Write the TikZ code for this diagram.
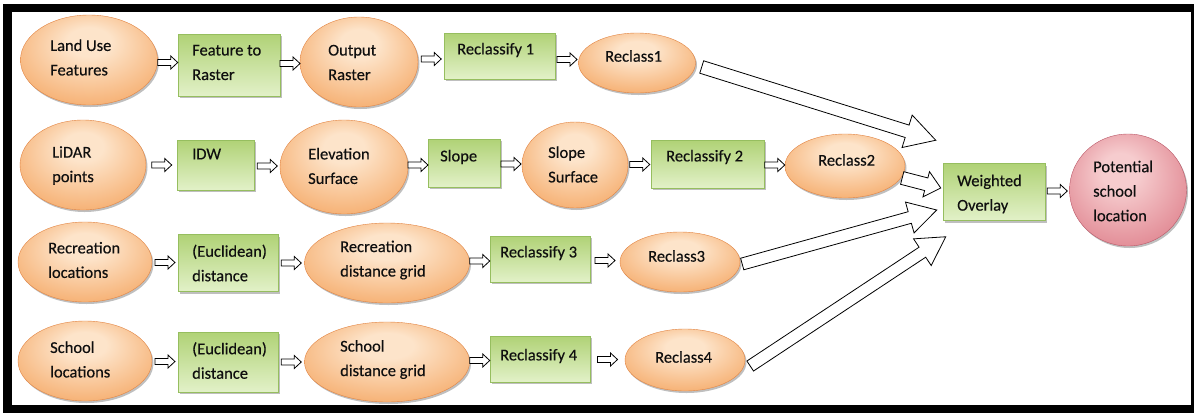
\documentclass[tikz,border=0pt]{standalone}
\usepackage{fontspec}
\setmainfont{Carlito}
\newfontfamily\lblfont{Carlito}[FakeBold=0.35]
\usetikzlibrary{calc,shapes.geometric,shadows}
\definecolor{orI}{RGB}{253,228,202}
\definecolor{orM}{RGB}{246,178,118}
\definecolor{orO}{RGB}{232,132,62}
\definecolor{orD}{RGB}{226,132,66}
\definecolor{pkI}{RGB}{246,204,206}
\definecolor{pkM}{RGB}{226,140,150}
\definecolor{pkO}{RGB}{196,84,100}
\definecolor{pkD}{RGB}{186,88,104}
\definecolor{gnT}{RGB}{176,210,118}
\definecolor{gnB}{RGB}{226,241,200}
\definecolor{gnD}{RGB}{150,190,95}
\definecolor{txtc}{RGB}{15,15,15}
\pgfdeclareradialshading{orshade}{\pgfpoint{0bp}{12bp}}{color(0bp)=(orI); color(8bp)=(orI); color(30bp)=(orM); color(50bp)=(orO)}
\pgfdeclareradialshading{pkshade}{\pgfpoint{-4bp}{10bp}}{color(0bp)=(pkI); color(8bp)=(pkI); color(30bp)=(pkM); color(50bp)=(pkO)}
\tikzset{
  shd/.style={drop shadow={shadow xshift=1.5pt, shadow yshift=-2pt, opacity=0.25, fill=black}},
  oval/.style={ellipse, draw=orD, line width=0.4pt, shading=orshade, shd, inner sep=0pt},
  pink/.style={ellipse, draw=pkD, line width=0.4pt, shading=pkshade, shd, inner sep=0pt},
  box/.style={rectangle, draw=gnD, line width=0.5pt, top color=gnT, bottom color=gnB, shd, inner sep=0pt},
  txt/.style={anchor=west, align=left, inner sep=0pt, font=\lblfont\fontsize{16.5}{24.5}\selectfont, text=txtc},
  blk/.style={draw=black, fill=white, line width=0.8pt, line join=miter},
}
% block arrow: start, end, half shaft, half head, head length
\newcommand\blockarr[5]{%
  \coordinate (bs) at #1; \coordinate (be) at #2;
  \coordinate (bh) at ($(be)!#5!(bs)$);
  \draw[blk] ($(bs)!#3!90:(be)$) -- ($(bh)!#3!-90:(bs)$) -- ($(bh)!#4!-90:(bs)$) -- (be)
    -- ($(bh)!#4!90:(bs)$) -- ($(bh)!#3!90:(bs)$) -- ($(bs)!#3!-90:(be)$) -- cycle;}
% small arrow between two nodes
\newcommand\smallarr[2]{%
  \coordinate (sm) at ($(#1.east)!.5!(#2.west)$);
  \blockarr{($(sm)+(-10,0)$)}{($(sm)+(10,0)$)}{3pt}{6.5pt}{7pt}}
\begin{document}
\begin{tikzpicture}[x=1pt,y=-1pt]
\useasboundingbox (0,0) rectangle (1194,413);
\fill[black] (3,4) rectangle (1194,413);
\fill[white] (12,12) rectangle (1191,405);

% row 1
\node[oval, minimum width=137pt, minimum height=90pt] (lu) at (89,60) {};
\node[box, minimum width=102pt, minimum height=62pt] (fr) at (229,65) {};
\node[oval, minimum width=118pt, minimum height=90pt] (or) at (359,62) {};
\node[box, minimum width=111pt, minimum height=46pt] (r1) at (500,56) {};
\node[oval, minimum width=117pt, minimum height=60pt] (rc1) at (637,63) {};
% row 2
\node[oval, minimum width=126pt, minimum height=90pt] (li) at (83,165) {};
\node[box, minimum width=77pt, minimum height=50pt] (idw) at (216,165) {};
\node[oval, minimum width=128pt, minimum height=94pt] (es) at (344,167) {};
\node[box, minimum width=72pt, minimum height=48pt] (sl) at (464,163) {};
\node[oval, minimum width=106pt, minimum height=86pt] (ss) at (575,165) {};
\node[box, minimum width=113pt, minimum height=48pt] (r2) at (708,164) {};
\node[oval, minimum width=120pt, minimum height=64pt] (rc2) at (845,166) {};
% overlay and result
\node[box, minimum width=102pt, minimum height=57pt] (wo) at (994,192) {};
\node[pink, minimum width=117pt, minimum height=112pt] (ps) at (1128,190) {};
% row 3
\node[oval, minimum width=134pt, minimum height=80pt] (rl) at (85,262) {};
\node[box, minimum width=100pt, minimum height=57pt] (ed1) at (228,263) {};
\node[oval, minimum width=165pt, minimum height=80pt] (rd) at (387,263) {};
\node[box, minimum width=100pt, minimum height=46pt] (r3) at (540,259) {};
\node[oval, minimum width=120pt, minimum height=60pt] (rc3) at (680,262) {};
% row 4
\node[oval, minimum width=134pt, minimum height=80pt] (scl) at (85,361) {};
\node[box, minimum width=100pt, minimum height=60pt] (ed2) at (228,362) {};
\node[oval, minimum width=165pt, minimum height=80pt] (sd) at (387,362) {};
\node[box, minimum width=100pt, minimum height=46pt] (r4) at (540,359) {};
\node[oval, minimum width=120pt, minimum height=62pt] (rc4) at (685,360) {};

% texts
\node[txt] (lu-t) at (50,57.5) {Land Use\\Features};
\node[txt] (fr-t) at (192,62.5) {Feature to\\Raster};
\node[txt] (or-t) at (328,62.5) {Output\\Raster};
\node[txt] (r1-t) at (457,50) {Reclassify 1};
\node[txt] (rc1-t) at (605,56) {Reclass1};
\node[txt] (li-t) at (52,165.5) {LiDAR\\points};
\node[txt] (idw-t) at (192,154) {IDW};
\node[txt] (es-t) at (308,166) {Elevation\\Surface};
\node[txt] (sl-t) at (440,157) {Slope};
\node[txt] (ss-t) at (548,164.5) {Slope\\Surface};
\node[txt] (r2-t) at (666,157) {Reclassify 2};
\node[txt] (rc2-t) at (818,160) {Reclass2};
\node[txt] (wo-t) at (957,194) {Weighted\\Overlay};
\node[txt] (ps-t) at (1093,191) {Potential\\school\\location};
\node[txt] (rl-t) at (48,260) {Recreation\\locations};
\node[txt] (ed1-t) at (192,263) {(Euclidean)\\distance};
\node[txt] (rd-t) at (340,260) {Recreation\\distance grid};
\node[txt] (r3-t) at (500,253) {Reclassify 3};
\node[txt] (rc3-t) at (648,256) {Reclass3};
\node[txt] (scl-t) at (50,359.5) {School\\locations};
\node[txt] (ed2-t) at (192,360.5) {(Euclidean)\\distance};
\node[txt] (sd-t) at (340,359.5) {School\\distance grid};
\node[txt] (r4-t) at (500,356) {Reclassify 4};
\node[txt] (rc4-t) at (655,357) {Reclass4};

% small arrows
\smallarr{lu}{fr}\smallarr{fr}{or}\smallarr{or}{r1}\smallarr{r1}{rc1}
\smallarr{li}{idw}\smallarr{idw}{es}\smallarr{es}{sl}\smallarr{sl}{ss}\smallarr{ss}{r2}\smallarr{r2}{rc2}
\smallarr{rl}{ed1}\smallarr{ed1}{rd}\smallarr{rd}{r3}\smallarr{r3}{rc3}
\smallarr{scl}{ed2}\smallarr{ed2}{sd}\smallarr{sd}{r4}\smallarr{r4}{rc4}
\smallarr{wo}{ps}

% big arrows to weighted overlay
\blockarr{($(rc1.east)+(6,4)$)}{($(wo.north west)+(-7,-23)$)}{6.5pt}{17pt}{30pt}
\blockarr{($(rc2.east)+(-3,12)$)}{($(wo.west)+(-2,-4)$)}{6.5pt}{13pt}{15pt}
\blockarr{($(rc3.east)+(2,2)$)}{($(wo.west)+(-6,18)$)}{6pt}{16pt}{28pt}
\blockarr{($(rc4.east)+(5,6)$)}{($(wo.south west)+(3,16)$)}{6pt}{16pt}{28pt}
\end{tikzpicture}
\end{document}
